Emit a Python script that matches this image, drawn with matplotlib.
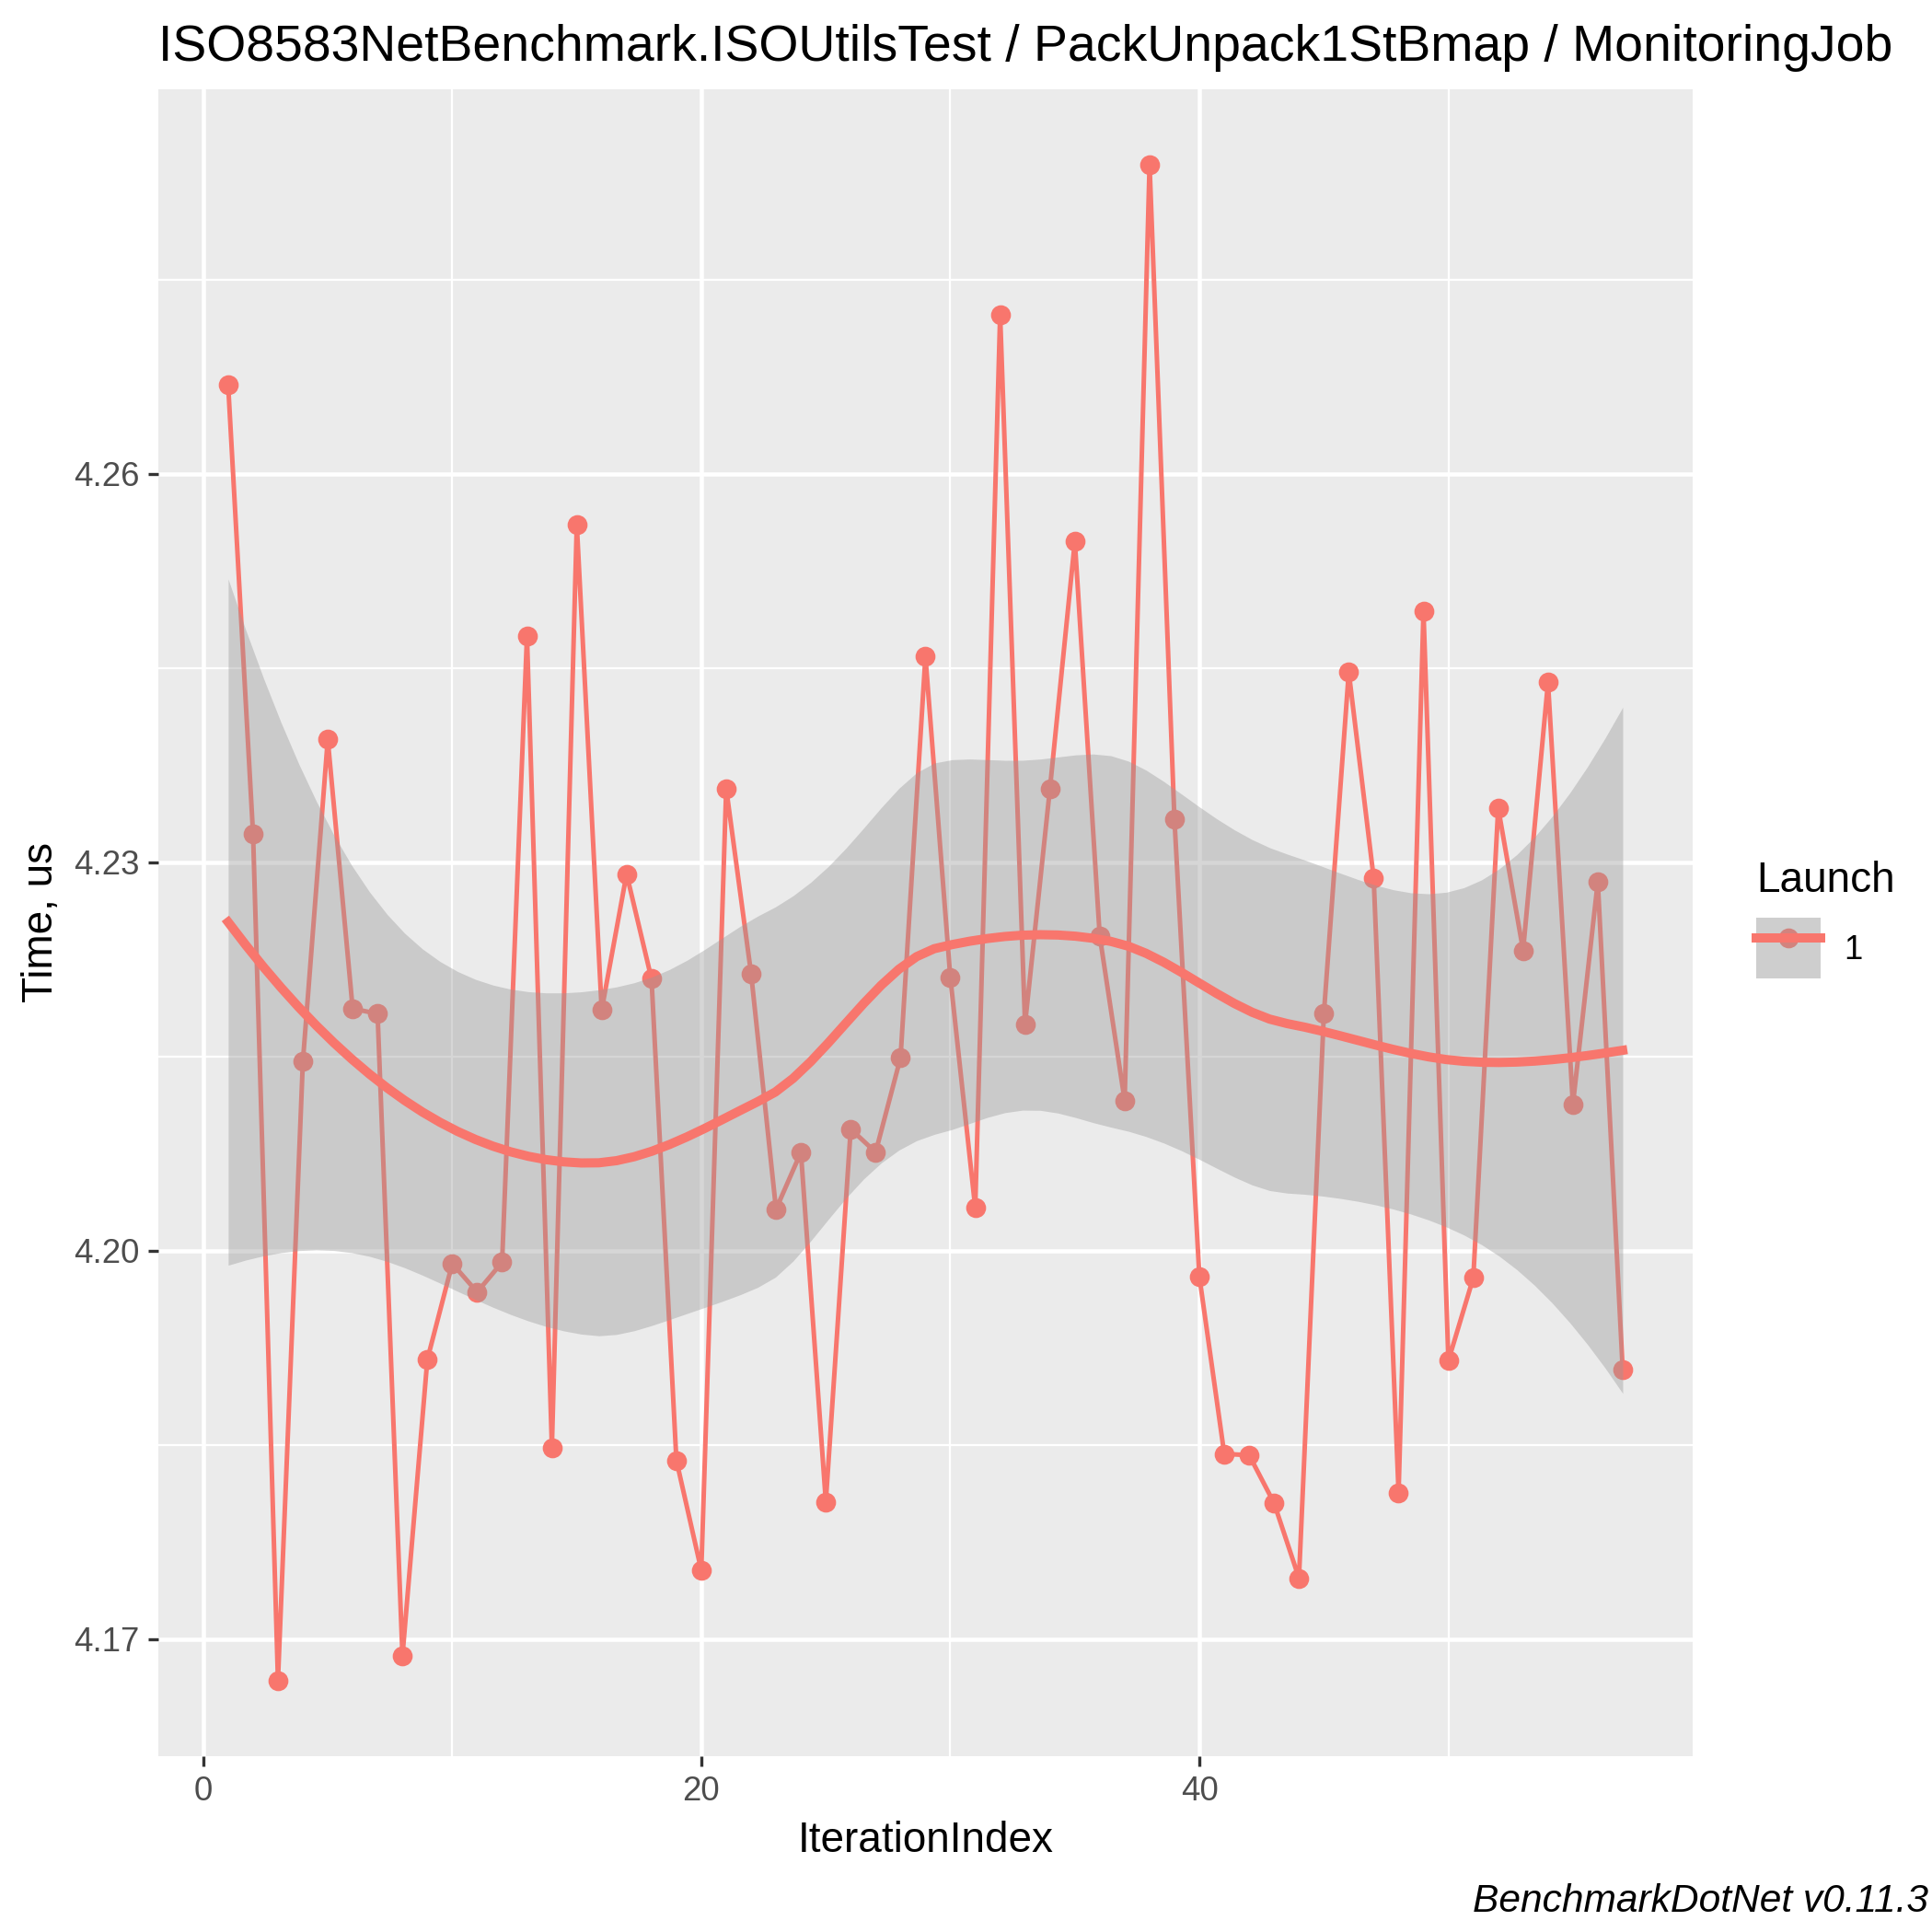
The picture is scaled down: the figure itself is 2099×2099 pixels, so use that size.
import numpy as np
import matplotlib
matplotlib.use("Agg")
import matplotlib.pyplot as plt
from matplotlib.lines import Line2D
from matplotlib.patches import Patch
from matplotlib.legend_handler import HandlerTuple

plt.rcParams['font.family'] = ['Liberation Sans', 'DejaVu Sans']

# measurements (us) per iteration, launch 1
iteration = np.arange(1, 58)
time_us = [
    4.2669, 4.2322, 4.1668, 4.2146, 4.2395, 4.2187, 4.2183, 4.1687, 4.1916, 4.1990,
    4.1968, 4.1991, 4.2475, 4.1848, 4.2561, 4.2186, 4.2291, 4.2210, 4.1838, 4.1753,
    4.2357, 4.2214, 4.2032, 4.2076, 4.1806, 4.2094, 4.2076, 4.2149, 4.2459, 4.2211,
    4.2033, 4.2723, 4.2175, 4.2357, 4.2548, 4.2243, 4.2116, 4.2839, 4.2333, 4.1980,
    4.1843, 4.1842, 4.1805, 4.1747, 4.2183, 4.2447, 4.2288, 4.1813, 4.2494, 4.1915,
    4.1979, 4.2342, 4.2232, 4.2439, 4.2113, 4.2285, 4.1908,
]
launch_label = "1"
title = "ISO8583NetBenchmark.ISOUtilsTest / PackUnpack1StBmap / MonitoringJob"
caption = "BenchmarkDotNet v0.11.3"

RED = "#F8766D"
SPAN = 0.75


def local_rows(x, x0, span=SPAN):
    # local quadratic fit at x0 with tricube weights: rows for value and slope
    n = len(x)
    q = int(np.floor(n * span))
    d = np.abs(x - x0)
    h = np.sort(d)[q - 1]
    w = np.clip(1 - (d / h) ** 3, 0, None) ** 3
    X = np.column_stack([np.ones(n), x - x0, (x - x0) ** 2])
    XtW = X.T * w
    B = np.linalg.solve(XtW @ X, XtW)
    return B[0], B[1]


def kd_vertices(x, span=SPAN, cell=0.2):
    # 1-d version of loess kd-tree cells (surface = "interpolate")
    xs = np.sort(x)
    fc = int(np.floor(len(x) * span * cell))
    mu = 0.005 * (xs[-1] - xs[0])
    verts = {xs[0] - mu, xs[-1] + mu}

    def split(lo, hi):
        if hi - lo + 1 <= fc:
            return
        m = (lo + hi) // 2
        verts.add((xs[m] + xs[m + 1]) / 2)
        split(lo, m)
        split(m + 1, hi)

    split(0, len(xs) - 1)
    return np.array(sorted(verts))


def interp_rows(x, pts):
    v = kd_vertices(x)
    vals, slopes = zip(*[local_rows(x, vv) for vv in v])
    vals, slopes = np.array(vals), np.array(slopes)
    out = []
    for p in pts:
        i = min(np.searchsorted(v, p, side="right") - 1, len(v) - 2)
        h = v[i + 1] - v[i]
        t = (p - v[i]) / h
        h00 = 2 * t ** 3 - 3 * t ** 2 + 1
        h10 = t ** 3 - 2 * t ** 2 + t
        h01 = -2 * t ** 3 + 3 * t ** 2
        h11 = t ** 3 - t ** 2
        out.append(h00 * vals[i] + h10 * h * slopes[i] + h01 * vals[i + 1] + h11 * h * slopes[i + 1])
    return np.array(out)


x = iteration.astype(float)
y = np.array(time_us)
L = interp_rows(x, x)
resid = y - L @ y
IL = np.eye(len(x)) - L
M = IL.T @ IL
delta1 = np.trace(M)
delta2 = np.trace(M @ M)
sigma = np.sqrt(np.sum(resid ** 2) / delta1)
df = delta1 ** 2 / delta2
z = 1.959964
tq = z + (z ** 3 + z) / (4 * df) + (5 * z ** 5 + 16 * z ** 3 + 3 * z) / (96 * df ** 2)

xs = np.linspace(x.min(), x.max(), 80)
Lg = interp_rows(x, xs)
fit = Lg @ y
se = sigma * np.sqrt(np.sum(Lg ** 2, axis=1))

fig = plt.figure(figsize=(2099 / 300, 2099 / 300), dpi=300)
ax = fig.add_axes([0.082, 0.091, 0.794, 0.863])
ax.set_facecolor("#EBEBEB")
for s in ax.spines.values():
    s.set_visible(False)

ax.plot(iteration, time_us, color=RED, lw=1.2, marker="o", ms=4.2, zorder=3)
ax.fill_between(xs, fit - tq * se, fit + tq * se, color="#999999", alpha=0.4, lw=0, zorder=4)
ax.plot(xs, fit, color=RED, lw=2.4, zorder=5)

ax.set_xlim(-1.8, 59.8)
ymin, ymax = min(time_us), max(time_us)
pad = (ymax - ymin) * 0.05
ax.set_ylim(ymin - pad, ymax + pad)
ax.set_xticks([0, 20, 40])
ax.set_xticks([10, 30, 50], minor=True)
ax.set_yticks([4.17, 4.20, 4.23, 4.26])
ax.set_yticklabels(["4.17", "4.20", "4.23", "4.26"])
ax.set_yticks([4.185, 4.215, 4.245, 4.275], minor=True)
ax.grid(which="major", color="white", lw=1.1)
ax.grid(which="minor", color="white", lw=0.55)
ax.set_axisbelow(True)
ax.tick_params(which="major", length=2.75, width=0.8, color="#333333",
               labelsize=8.8, labelcolor="#4D4D4D", pad=2.2)
ax.tick_params(which="minor", length=0)

ax.set_xlabel("IterationIndex", fontsize=11, labelpad=3.5)
ax.set_ylabel("Time, us", fontsize=11, labelpad=3)
fig.text(0.082, 0.9686, title, fontsize=13.3, ha="left", va="baseline")
fig.text(0.998, 0.006, caption, fontsize=10.2, style="italic", ha="right", va="bottom")

key = (Patch(facecolor="#F2F2F2", edgecolor="none"),
       Line2D([], [], color=RED, lw=0, marker="o", ms=4.2),
       Patch(facecolor="#999999", alpha=0.4, edgecolor="none"),
       Line2D([], [], color=RED, lw=2.4))
leg = fig.legend([key], [launch_label], handler_map={tuple: HandlerTuple(ndivide=1, pad=0)},
                 title="Launch", loc="center left", bbox_to_anchor=(0.902, 0.524),
                 frameon=False, fontsize=8.8, title_fontsize=11,
                 handlelength=1.9, handleheight=2.4, handletextpad=0.7, borderaxespad=0)
leg._legend_box.align = "left"

fig.savefig("out.png", dpi=300)
